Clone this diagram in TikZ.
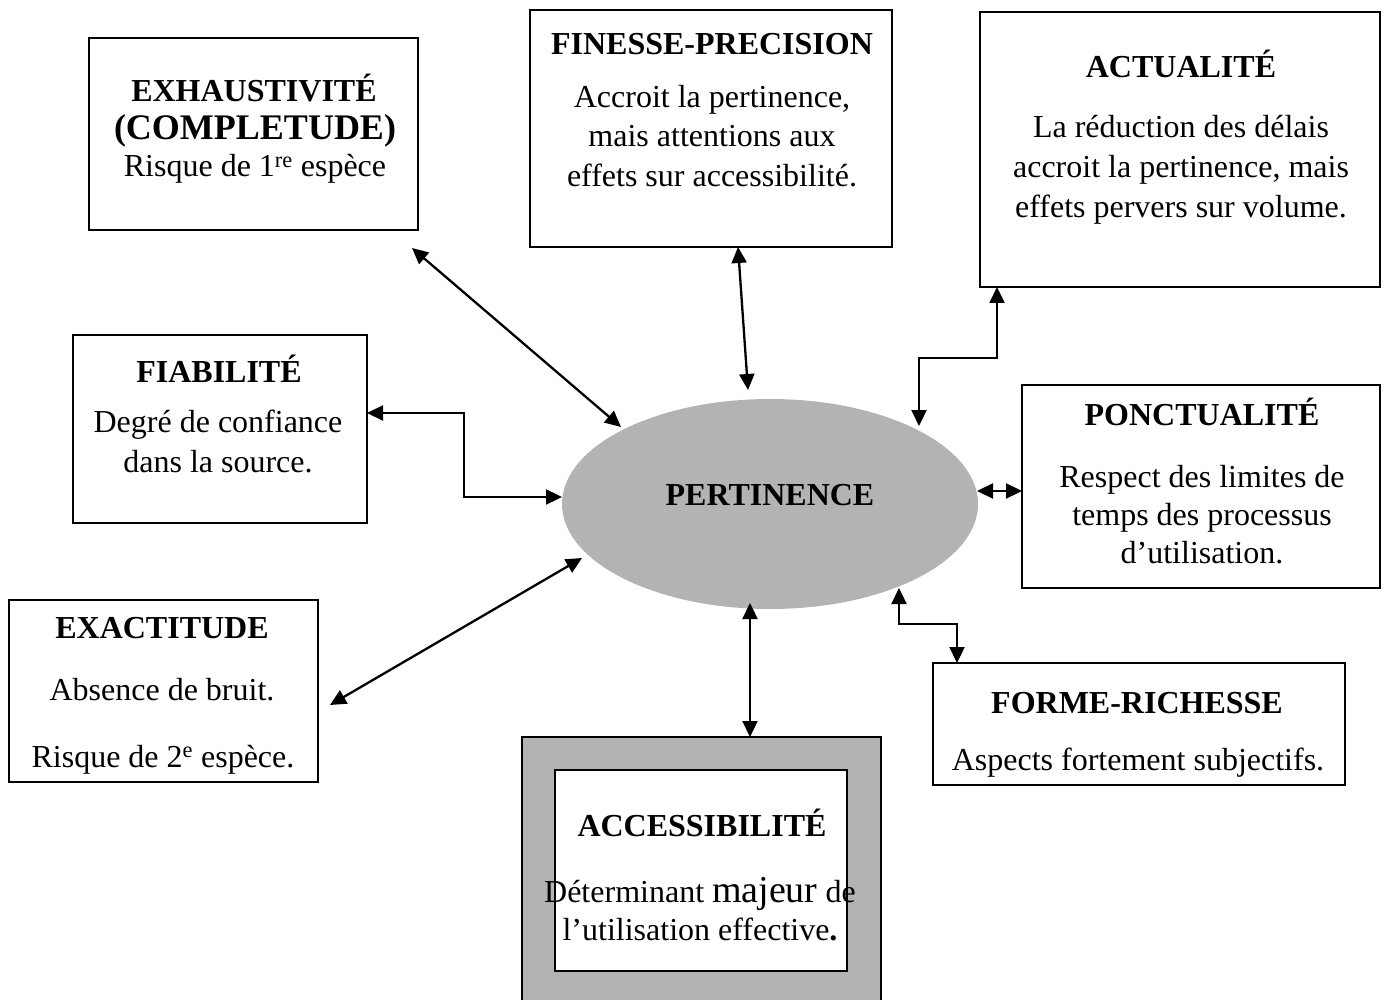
\documentclass[tikz,border=0pt]{standalone}
\usepackage{fontspec}
\setmainfont{Liberation Serif}
\usetikzlibrary{arrows.meta,shapes.geometric}
\definecolor{pgray}{RGB}{179,179,179}
\begin{document}
\begin{tikzpicture}[x=1pt,y=-1pt,
  frame/.style={draw,line width=2.5pt,fill=white,rectangle,inner sep=0pt,outer sep=0pt},
  head/.style={anchor=base,inner sep=0pt,font=\fontsize{32}{38}\selectfont\bfseries},
  body/.style={anchor=base,inner sep=0pt,font=\fontsize{32}{38}\selectfont},
  link/.style={line width=2.3pt,{Triangle[length=16pt,width=15pt]}-{Triangle[length=16pt,width=15pt]}}
]
\useasboundingbox (0,0) rectangle (1384,1000);
\clip (0,0) rectangle (1384,1000);

% central notion
\node[ellipse,fill=pgray,minimum width=416,minimum height=210,inner sep=0pt] (pert) at (770,504) {};
\node[head] (pertT) at (770,505) {PERTINENCE};

% criteria boxes
\node[frame,minimum width=329,minimum height=192] (exh) at (253.5,134) {};
\node[frame,minimum width=362,minimum height=237] (fin) at (711,128.5) {};
\node[frame,minimum width=400,minimum height=275] (act) at (1180,149.5) {};
\node[frame,minimum width=294,minimum height=188] (fia) at (220,429) {};
\node[frame,minimum width=358,minimum height=203] (pon) at (1201,486.5) {};
\node[frame,minimum width=309,minimum height=182] (exa) at (163.5,691) {};
\node[frame,minimum width=412,minimum height=122] (for) at (1139,724) {};
\node[frame,fill=pgray,minimum width=359,minimum height=283] (accO) at (701.5,878.5) {};
\node[frame,minimum width=292,minimum height=201] (accI) at (701,870.5) {};

% texts
\node[head] (exhT) at (254,102) {EXHAUSTIVITÉ};
\node[head,font=\fontsize{36}{40}\selectfont\bfseries] (exhT2) at (255,140) {(COMPLETUDE)};
\node[body] (exh1) at (255,177) {Risque de 1\textsuperscript{re} espèce};

\node[head] (finT) at (712,55) {FINESSE-PRECISION};
\node[body] (fin1) at (712,108) {Accroit la pertinence,};
\node[body] (fin2) at (712,147) {mais attentions aux};
\node[body] (fin3) at (712,187) {effets sur accessibilité.};

\node[head] (actT) at (1181,78) {ACTUALITÉ};
\node[body] (act1) at (1181,138) {La réduction des délais};
\node[body] (act2) at (1181,178) {accroit la pertinence, mais};
\node[body] (act3) at (1181,218) {effets pervers sur volume.};

\node[head] (fiaT) at (219,382) {FIABILITÉ};
\node[body] (fia1) at (218,432) {Degré de confiance};
\node[body] (fia2) at (218,472) {dans la source.};

\node[head] (ponT) at (1202,425) {PONCTUALITÉ};
\node[body] (pon1) at (1202,487) {Respect des limites de};
\node[body] (pon2) at (1202,525) {temps des processus};
\node[body] (pon3) at (1202,563) {d’utilisation.};

\node[head] (exaT) at (162,638) {EXACTITUDE};
\node[body] (exa1) at (162,700) {Absence de bruit.};
\node[body] (exa2) at (163,767) {Risque de 2\textsuperscript{e} espèce.};

\node[head] (forT) at (1137,713) {FORME-RICHESSE};
\node[body] (for1) at (1138,770) {Aspects fortement subjectifs.};

\node[head] (accT) at (702,836) {ACCESSIBILITÉ};
\node[body] (acc1) at (700,902) {Déterminant {\fontsize{38}{40}\selectfont majeur} de};
\node[body] (acc2) at (700,940) {l’utilisation effective{\bfseries .}};

% connector end points
\coordinate (e1) at (412,248);  \coordinate (p1) at (621,427);
\coordinate (e2) at (738,247);  \coordinate (p2) at (748,390);
\coordinate (e3) at (997,287);  \coordinate (p3) at (919,426);
\coordinate (e4) at (367,413);  \coordinate (p4) at (562,497);
\coordinate (e5) at (1022,491); \coordinate (p5) at (977,491);
\coordinate (e6) at (330,705);  \coordinate (p6) at (582,558);
\coordinate (e7) at (750,737);  \coordinate (p7) at (750,603);
\coordinate (e8) at (957,663);  \coordinate (p8) at (899,588);

% connectors
\draw[link] (e1) -- (p1);
\draw[link] (e2) -- (p2);
\draw[link] (e3) -- (997,358) -- (919,358) -- (p3);
\draw[link] (e4) -- (464,413) -- (464,497) -- (p4);
\draw[link] (e5) -- (p5);
\draw[link] (e6) -- (p6);
\draw[link] (e7) -- (p7);
\draw[link] (e8) -- (957,624) -- (899,624) -- (p8);
\end{tikzpicture}
\end{document}
